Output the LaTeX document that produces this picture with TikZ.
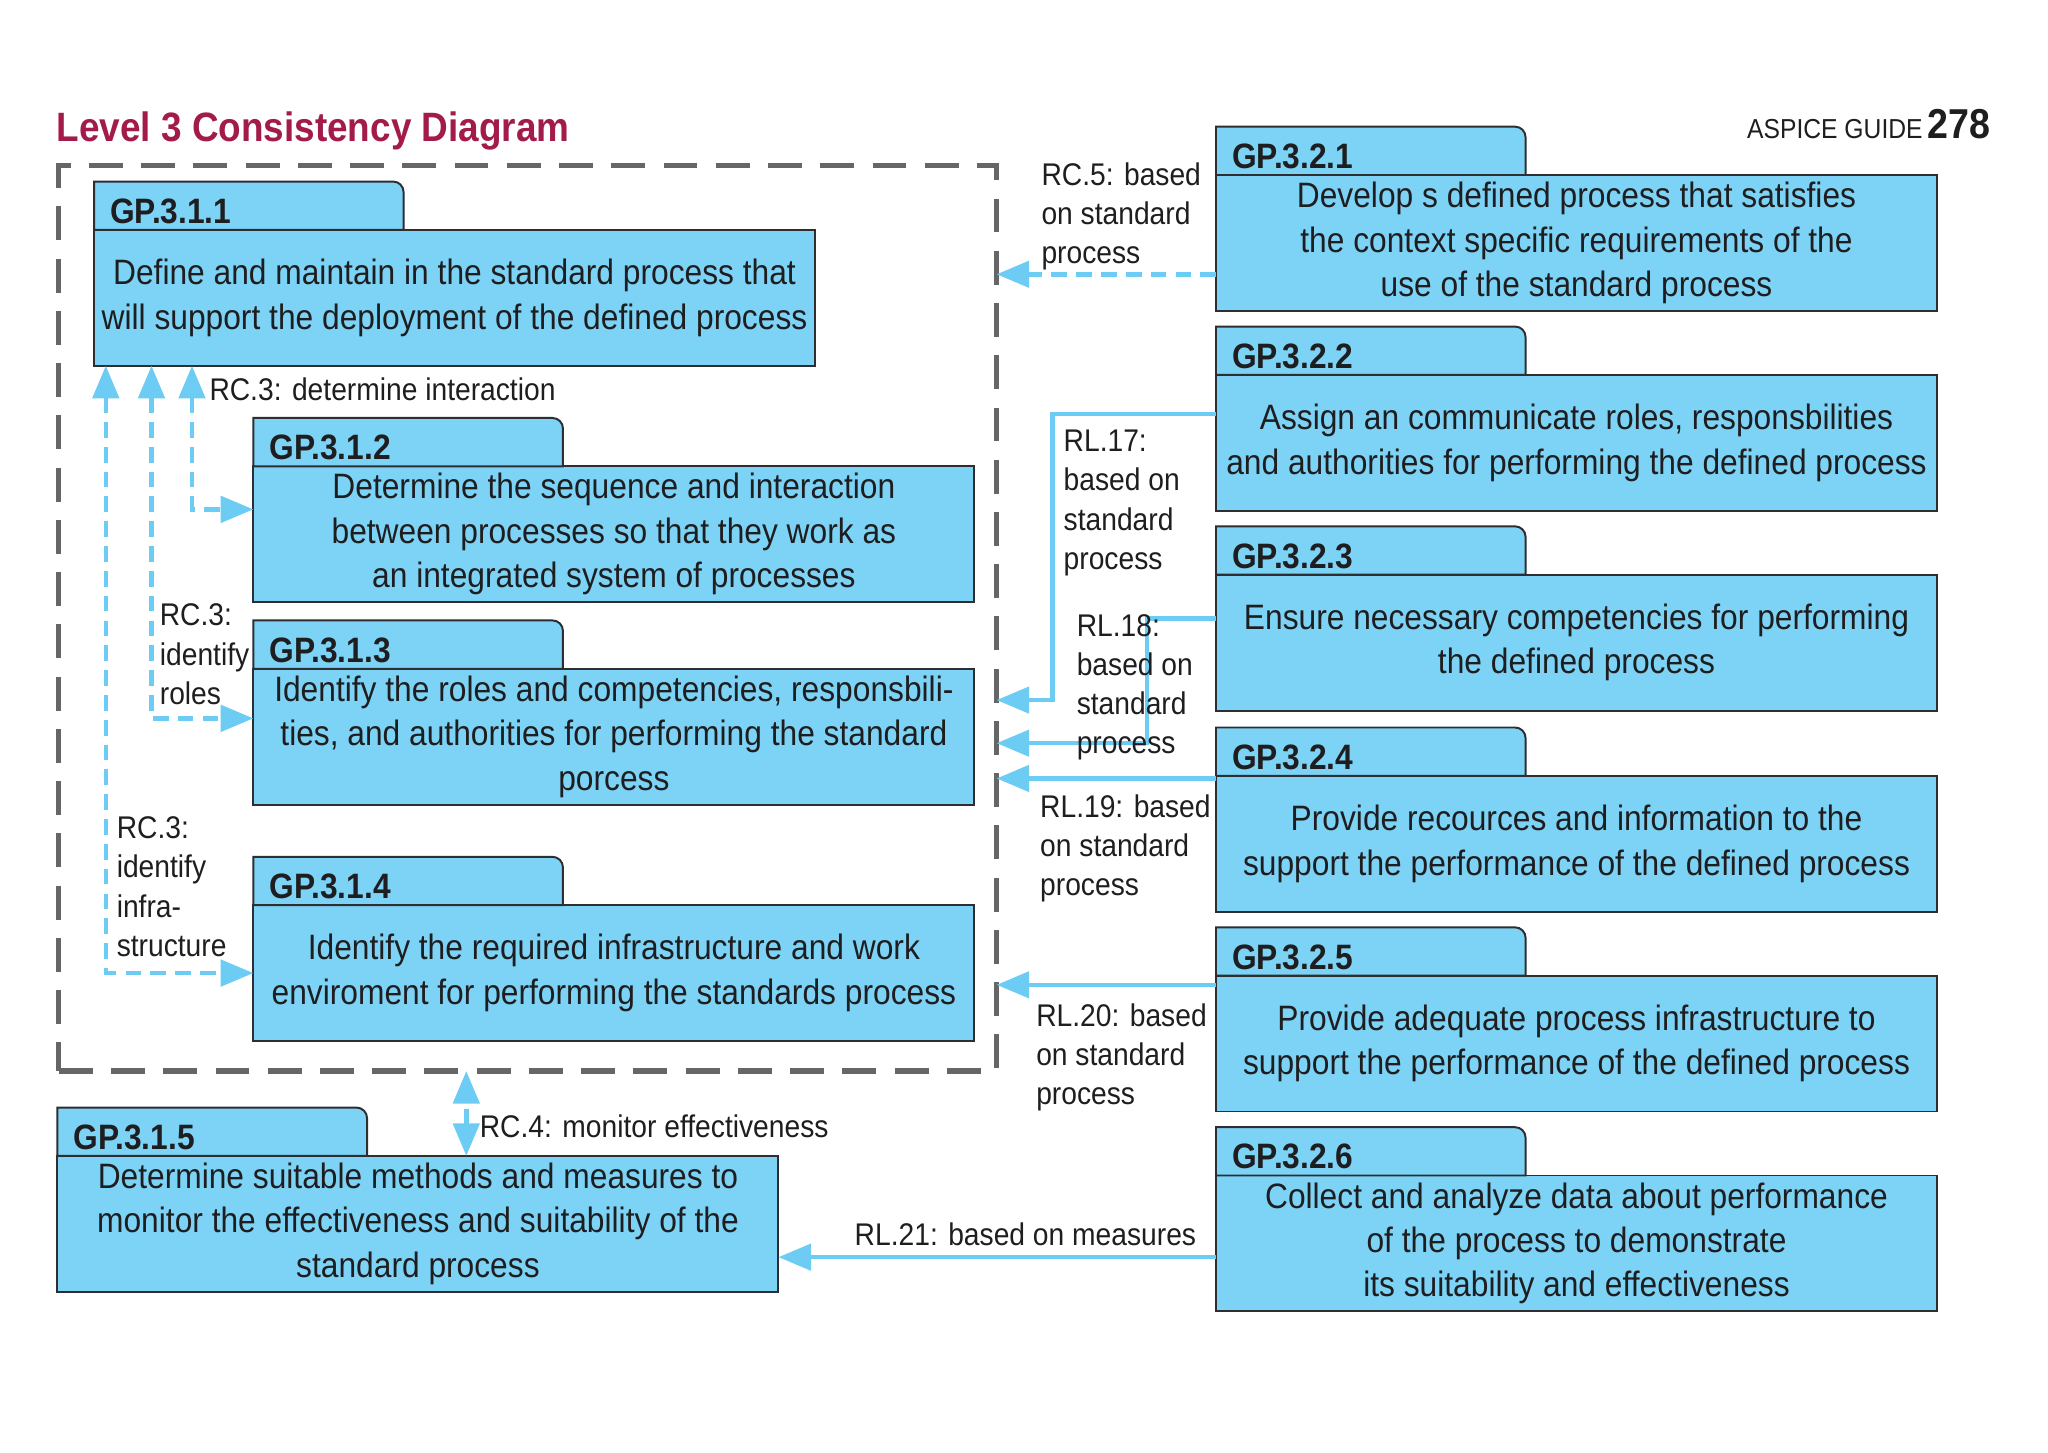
\documentclass[tikz,border=0pt]{standalone}
\usepackage{fontspec}
\setmainfont{Liberation Sans}[FakeStretch=0.9]
\usetikzlibrary{arrows.meta}

\definecolor{gpblue}{RGB}{125,211,245}
\definecolor{lineblue}{RGB}{108,204,243}
\definecolor{boxline}{RGB}{45,45,50}
\definecolor{framegray}{RGB}{102,102,102}
\definecolor{titlered}{RGB}{163,27,74}
\definecolor{textdark}{RGB}{30,30,32}

\newlength{\du}
\setlength{\du}{0.5pt}

\tikzset{
  gpbody/.style={draw=boxline, fill=gpblue, line width=1.5\du, anchor=north west,
    minimum width=552\du, minimum height=104\du, inner sep=0pt, outer sep=0pt, align=center,
    text=textdark, font=\fontsize{13.5}{17}\selectfont},
  gptab/.style={draw=boxline, fill=gpblue, line width=1.5\du},
  gplabel/.style={anchor=base west, inner sep=0pt, text=textdark,
    font=\fontsize{13.5}{16}\selectfont\bfseries},
  groupframe/.style={draw=framegray, line width=4\du, dash pattern=on 13pt off 7pt,
    anchor=north west, inner sep=0pt, outer sep=0pt},
  lbl/.style={anchor=north west, inner sep=0pt, align=left, text=textdark,
    font=\fontsize{12}{15}\selectfont},
  rlline/.style={draw=lineblue, line width=3.5\du},
  rcline/.style={draw=lineblue, line width=3.5\du, dash pattern=on 6pt off 3.5pt}
}

\begin{document}
\begin{tikzpicture}[x=0.5pt, y=-0.5pt, >={Triangle[length=12.5pt, width=10pt]}]
\useasboundingbox (0,0) rectangle (1568,1112);

% heading
\node[anchor=base west, inner sep=0pt, text=titlered, font=\fontsize{15.7}{18}\selectfont\bfseries] (title) at (43,108) {Level 3 Consistency Diagram};
\node[anchor=base east, inner sep=0pt, text=textdark, font=\fontsize{10.5}{12}\selectfont] (guide) at (1524,106) {ASPICE GUIDE\,{\fontsize{16}{18}\selectfont\bfseries 278}};

% standard process group
\node[groupframe, minimum width=718\du, minimum height=693\du] (lvl31) at (45,127) {};

\node[gpbody] (g311) at (72,176) {Define and maintain in the standard process that\\will support the deployment of the defined process};
\filldraw[gptab] (g311.north west) -- ++(0,-37) -- ++(229,0) arc[start angle=90, end angle=0, radius=8\du] -- ++(0,29) -- cycle;
\node[gplabel] (g311t) at ([xshift=12\du, yshift=5\du]g311.north west) {GP.3.1.1};

\node[gpbody] (g312) at (194,357) {Determine the sequence and interaction\\between processes so that they work as\\an integrated system of processes};
\filldraw[gptab] (g312.north west) -- ++(0,-37) -- ++(229,0) arc[start angle=90, end angle=0, radius=8\du] -- ++(0,29) -- cycle;
\node[gplabel] (g312t) at ([xshift=12\du, yshift=5\du]g312.north west) {GP.3.1.2};

\node[gpbody] (g313) at (194,512) {Identify the roles and competencies, responsbili-\\ties, and authorities for performing the standard\\porcess};
\filldraw[gptab] (g313.north west) -- ++(0,-37) -- ++(229,0) arc[start angle=90, end angle=0, radius=8\du] -- ++(0,29) -- cycle;
\node[gplabel] (g313t) at ([xshift=12\du, yshift=5\du]g313.north west) {GP.3.1.3};

\node[gpbody] (g314) at (194,693) {Identify the required infrastructure and work\\enviroment for performing the standards process};
\filldraw[gptab] (g314.north west) -- ++(0,-37) -- ++(229,0) arc[start angle=90, end angle=0, radius=8\du] -- ++(0,29) -- cycle;
\node[gplabel] (g314t) at ([xshift=12\du, yshift=5\du]g314.north west) {GP.3.1.4};

\node[gpbody] (g315) at (44,885) {Determine suitable methods and measures to\\monitor the effectiveness and suitability of the\\standard process};
\filldraw[gptab] (g315.north west) -- ++(0,-37) -- ++(229,0) arc[start angle=90, end angle=0, radius=8\du] -- ++(0,29) -- cycle;
\node[gplabel] (g315t) at ([xshift=12\du, yshift=5\du]g315.north west) {GP.3.1.5};

% defined process column
\node[gpbody] (g321) at (931,134) {Develop s defined process that satisfies\\the context specific requirements of the\\use of the standard process};
\filldraw[gptab] (g321.north west) -- ++(0,-37) -- ++(229,0) arc[start angle=90, end angle=0, radius=8\du] -- ++(0,29) -- cycle;
\node[gplabel] (g321t) at ([xshift=12\du, yshift=5\du]g321.north west) {GP.3.2.1};

\node[gpbody] (g322) at (931,287) {Assign an communicate roles, responsbilities\\and authorities for performing the defined process};
\filldraw[gptab] (g322.north west) -- ++(0,-37) -- ++(229,0) arc[start angle=90, end angle=0, radius=8\du] -- ++(0,29) -- cycle;
\node[gplabel] (g322t) at ([xshift=12\du, yshift=5\du]g322.north west) {GP.3.2.2};

\node[gpbody] (g323) at (931,440) {Ensure necessary competencies for performing\\the defined process};
\filldraw[gptab] (g323.north west) -- ++(0,-37) -- ++(229,0) arc[start angle=90, end angle=0, radius=8\du] -- ++(0,29) -- cycle;
\node[gplabel] (g323t) at ([xshift=12\du, yshift=5\du]g323.north west) {GP.3.2.3};

\node[gpbody] (g324) at (931,594) {Provide recources and information to the\\support the performance of the defined process};
\filldraw[gptab] (g324.north west) -- ++(0,-37) -- ++(229,0) arc[start angle=90, end angle=0, radius=8\du] -- ++(0,29) -- cycle;
\node[gplabel] (g324t) at ([xshift=12\du, yshift=5\du]g324.north west) {GP.3.2.4};

\node[gpbody] (g325) at (931,747) {Provide adequate process infrastructure to\\support the performance of the defined process};
\filldraw[gptab] (g325.north west) -- ++(0,-37) -- ++(229,0) arc[start angle=90, end angle=0, radius=8\du] -- ++(0,29) -- cycle;
\node[gplabel] (g325t) at ([xshift=12\du, yshift=5\du]g325.north west) {GP.3.2.5};

\node[gpbody] (g326) at (931,900) {Collect and analyze data about performance\\of the process to demonstrate\\its suitability and effectiveness};
\filldraw[gptab] (g326.north west) -- ++(0,-37) -- ++(229,0) arc[start angle=90, end angle=0, radius=8\du] -- ++(0,29) -- cycle;
\node[gplabel] (g326t) at ([xshift=12\du, yshift=5\du]g326.north west) {GP.3.2.6};

% RC.3 links inside the group
\coordinate[xshift=75\du] (rc3a) at (g311.south west);
\coordinate[yshift=19\du] (rc3ae) at (g312.west);
\draw[rcline,<->] (rc3a) |- (rc3ae);
\coordinate[xshift=44\du] (rc3b) at (g311.south west);
\coordinate[yshift=14\du] (rc3be) at (g313.west);
\draw[rcline,<->] (rc3b) |- (rc3be);
\coordinate[xshift=9\du] (rc3c) at (g311.south west);
\draw[rcline,<->] (rc3c) |- (g314.west);

% RC.4 and RC.5
\coordinate[xshift=37\du] (rc4) at (g315.north);
\draw[rcline,<->] (rc4) -- (rc4 |- lvl31.south);
\coordinate[yshift=-24\du] (rc5) at (g321.west);
\draw[rcline,->] (rc5) -- (rc5 -| lvl31.east);

% RL links
\coordinate[yshift=22\du] (rl17) at (g322.west);
\coordinate[yshift=28\du] (in17) at (g313.center -| lvl31.east);
\draw[rlline,->] (rl17) -| ([xshift=43\du]in17) -- (in17);
\coordinate[yshift=18.5\du] (rl18) at (g323.west);
\coordinate[yshift=-5\du] (in18) at (g313.center -| lvl31.east);
\draw[rlline,->] (rl18) -| ([xshift=115\du]in18) -- (in18);
\coordinate[yshift=-2\du] (rl19) at (g324.north west);
\draw[rlline,->] (rl19) -- (rl19 -| lvl31.east);
\coordinate[yshift=-7\du] (rl20) at (g325.north west);
\draw[rlline,->] (rl20) -- (rl20 -| lvl31.east);
\coordinate[yshift=-10.5\du] (rl21) at (g326.west);
\draw[rlline,->] (rl21) -- (rl21 -| g315.east);

% link labels
\node[lbl] (lrc3a) at (160,289) {RC.3: determine interaction};
\node[lbl] (lrc3b) at (122,462) {RC.3:\\identify\\roles};
\node[lbl] (lrc3c) at (89,625) {RC.3:\\identify\\infra-\\structure};
\node[lbl] (lrc4) at (367,853) {RC.4: monitor effectiveness};
\node[lbl] (lrc5) at (797,124) {RC.5: based\\on standard\\process};
\node[lbl] (lrl17) at (814,329) {RL.17:\\based on\\standard\\process};
\node[lbl] (lrl18) at (824,470) {RL.18:\\based on\\standard\\process};
\node[lbl] (lrl19) at (796,608) {RL.19: based\\on standard\\process};
\node[lbl] (lrl20) at (793,768) {RL.20: based\\on standard\\process};
\node[lbl] (lrl21) at (654,936) {RL.21: based on measures};
\end{tikzpicture}
\end{document}
